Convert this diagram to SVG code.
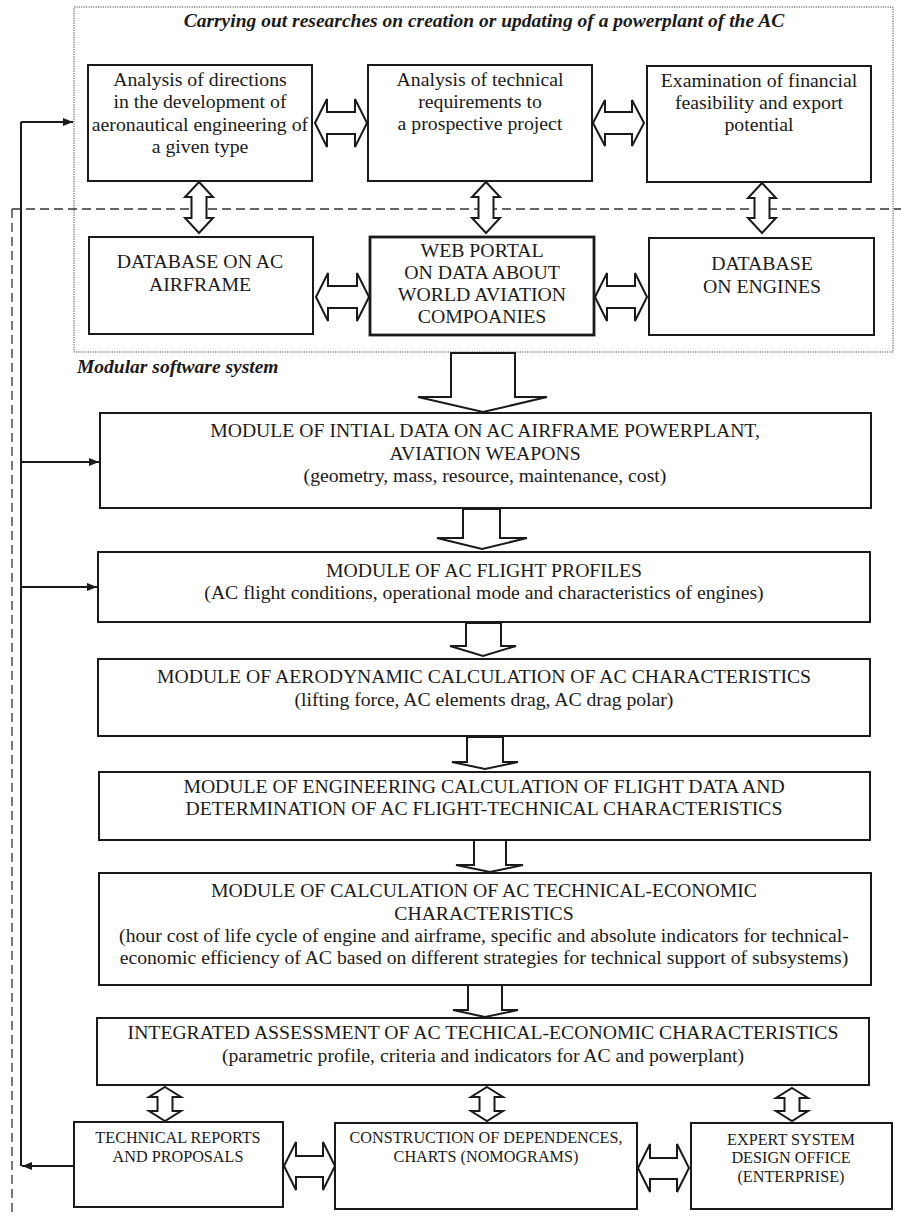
<svg xmlns="http://www.w3.org/2000/svg" width="901" height="1218" viewBox="0 0 901 1218">
<style>
.bg{fill:#ffffff}
.box{fill:#ffffff;stroke:#1a1a1a;stroke-width:2}
.boxb{fill:#ffffff;stroke:#1a1a1a;stroke-width:2.8}
.blk{fill:#ffffff;stroke:#1a1a1a;stroke-width:2;stroke-linejoin:miter}
.dot{fill:none;stroke:#444;stroke-width:1;stroke-dasharray:1.2,1.2}
.dash{fill:none;stroke:#333;stroke-width:1.3;stroke-dasharray:9,5}
.line{fill:none;stroke:#1a1a1a;stroke-width:2}
text{font-family:"Liberation Serif","Times New Roman",serif;fill:#1a1a1a;text-anchor:middle}
.t18{font-size:19.8px}
.t17{font-size:19.7px}
.t14{font-size:16.2px}
.ttl{font-size:19.5px;font-weight:bold;font-style:italic}
.lbl{font-size:19.5px;font-weight:bold;font-style:italic;text-anchor:start}
</style>
<defs>
<marker id="ah" viewBox="0 0 10 8" refX="10" refY="4" markerWidth="10" markerHeight="8" markerUnits="userSpaceOnUse" orient="auto">
<path d="M0,0 L10,4 L0,8 Z" fill="#1a1a1a"/>
</marker>
</defs>
<rect class="bg" x="0" y="0" width="901" height="1218"/>

<g id="frames">
<rect class="dot" x="74" y="7" width="819" height="345"/>
<path class="dash" d="M12,209 H901 M12,209 V1216"/>
<text class="ttl" x="484" y="27">Carrying out researches on creation or updating of a powerplant of the AC</text>
<text class="lbl" x="77" y="373">Modular software system</text>
</g>

<g id="connectors">
<path class="line" d="M21,122 V1166"/>
<path class="line" d="M21,122 H73" marker-end="url(#ah)"/>
<path class="line" d="M21,462 H99" marker-end="url(#ah)"/>
<path class="line" d="M21,587 H97" marker-end="url(#ah)"/>
<path class="line" d="M74,1166 H22" marker-end="url(#ah)"/>
<polygon class="blk" points="315,123 327,99 327,112 355,112 355,99 367,123 355,147 355,134 327,134 327,147"/>
<polygon class="blk" points="593,123 605,100 605,112 632,112 632,100 644,123 632,146 632,134 605,134 605,146"/>
<polygon class="blk" points="316,297 328,273 328,286 357,286 357,273 369,297 357,321 357,308 328,308 328,321"/>
<polygon class="blk" points="595,297 607,273 607,286 635,286 635,273 647,297 635,321 635,308 607,308 607,321"/>
<polygon class="blk" points="199,182 213,197 206.5,197 206.5,218 213,218 199,233 185,218 191.5,218 191.5,197 185,197"/>
<polygon class="blk" points="486,182 500,197 493.5,197 493.5,218 500,218 486,233 472,218 478.5,218 478.5,197 472,197"/>
<polygon class="blk" points="762,183 776,198 769.5,198 769.5,218 776,218 762,233 748,218 754.5,218 754.5,198 748,198"/>
<polygon class="blk" points="451,353 515,353 515,397 547,397 483,412 418,397 451,397"/>
<polygon class="blk" points="463,509 500,509 500,538 527,538 482,549 437,538 463,538"/>
<polygon class="blk" points="466,623 501,623 501,646 516,646 483,656 450,646 466,646"/>
<polygon class="blk" points="467,737 503,737 503,762 518,762 485,769 452,762 467,762"/>
<polygon class="blk" points="474,840 506,840 506,865 523,865 490,872 456,865 474,865"/>
<polygon class="blk" points="468,985 502,985 502,1010 518,1010 485,1017 453,1010 468,1010"/>
<polygon class="blk" points="165,1087 181,1097 172.5,1097 172.5,1111 181,1111 165,1121 149,1111 157.5,1111 157.5,1097 149,1097"/>
<polygon class="blk" points="487,1087 503,1097 494.5,1097 494.5,1111 503,1111 487,1121 471,1111 479.5,1111 479.5,1097 471,1097"/>
<polygon class="blk" points="792,1088 808,1098 799.5,1098 799.5,1111 808,1111 792,1121 776,1111 784.5,1111 784.5,1098 776,1098"/>
<polygon class="blk" points="284,1166 296,1142 296,1156 323,1156 323,1142 335,1166 323,1190 323,1177 296,1177 296,1190"/>
<polygon class="blk" points="638,1168 650,1144 650,1158 677,1158 677,1144 689,1168 677,1192 677,1179 650,1179 650,1192"/>
</g>

<g id="n-directions">
<rect class="box" x="88" y="65" width="224" height="116"/>
<text class="t18" x="200" y="86">Analysis of directions</text>
<text class="t18" x="200" y="108">in the development of</text>
<text class="t18" x="200" y="131">aeronautical engineering of</text>
<text class="t18" x="200" y="153">a given type</text>
</g>
<g id="n-requirements">
<rect class="box" x="368" y="65" width="224" height="116"/>
<text class="t18" x="480" y="86">Analysis of technical</text>
<text class="t18" x="480" y="108">requirements to</text>
<text class="t18" x="480" y="130">a prospective project</text>
</g>
<g id="n-financial">
<rect class="box" x="647" y="66" width="224" height="116"/>
<text class="t18" x="759" y="87">Examination of financial</text>
<text class="t18" x="759" y="109">feasibility and export</text>
<text class="t18" x="759" y="131">potential</text>
</g>
<g id="n-db-airframe">
<rect class="box" x="89" y="237" width="224" height="97"/>
<text class="t18" x="200" y="268">DATABASE ON AC</text>
<text class="t18" x="200" y="291">AIRFRAME</text>
</g>
<g id="n-web-portal">
<rect class="boxb" x="370" y="237" width="224" height="98"/>
<text class="t18" x="482" y="257">WEB PORTAL</text>
<text class="t18" x="482" y="279">ON DATA ABOUT</text>
<text class="t18" x="482" y="301">WORLD AVIATION</text>
<text class="t18" x="482" y="323">COMPOANIES</text>
</g>
<g id="n-db-engines">
<rect class="box" x="649" y="238" width="225" height="97"/>
<text class="t18" x="762" y="270">DATABASE</text>
<text class="t18" x="762" y="293">ON ENGINES</text>
</g>

<g id="n-module-initial">
<rect class="box" x="100" y="413" width="771" height="95"/>
<text class="t17" x="485" y="437">MODULE OF INTIAL DATA ON AC AIRFRAME POWERPLANT,</text>
<text class="t17" x="485" y="460">AVIATION WEAPONS</text>
<text class="t17" x="485" y="482">(geometry, mass, resource, maintenance, cost)</text>
</g>
<g id="n-module-profiles">
<rect class="box" x="98" y="552" width="772" height="70"/>
<text class="t17" x="484" y="577">MODULE OF AC FLIGHT PROFILES</text>
<text class="t17" x="484" y="599">(AC flight conditions, operational mode and characteristics of engines)</text>
</g>
<g id="n-module-aero">
<rect class="box" x="98" y="659" width="772" height="77"/>
<text class="t17" x="484" y="683">MODULE OF AERODYNAMIC CALCULATION OF AC CHARACTERISTICS</text>
<text class="t17" x="484" y="706">(lifting force, AC elements drag, AC drag polar)</text>
</g>
<g id="n-module-engineering">
<rect class="box" x="99" y="772" width="771" height="68"/>
<text class="t17" x="484" y="793">MODULE OF ENGINEERING CALCULATION OF FLIGHT DATA AND</text>
<text class="t17" x="484" y="815">DETERMINATION OF AC FLIGHT-TECHNICAL CHARACTERISTICS</text>
</g>
<g id="n-module-economic">
<rect class="box" x="99" y="873" width="772" height="112"/>
<text class="t17" x="484" y="897">MODULE OF CALCULATION OF AC TECHNICAL-ECONOMIC</text>
<text class="t17" x="484" y="920">CHARACTERISTICS</text>
<text class="t17" x="484" y="942">(hour cost of life cycle of engine and airframe, specific and absolute indicators for technical-</text>
<text class="t17" x="484" y="964">economic efficiency of AC based on different strategies for technical support of subsystems)</text>
</g>
<g id="n-integrated">
<rect class="box" x="97" y="1018" width="772" height="67"/>
<text class="t17" x="483" y="1039">INTEGRATED ASSESSMENT OF AC TECHICAL-ECONOMIC CHARACTERISTICS</text>
<text class="t17" x="483" y="1062">(parametric profile, criteria and indicators for AC and powerplant)</text>
</g>

<g id="n-reports">
<rect class="box" x="74" y="1122" width="209" height="85"/>
<text class="t14" x="178" y="1143">TECHNICAL REPORTS</text>
<text class="t14" x="178" y="1162">AND PROPOSALS</text>
</g>
<g id="n-charts">
<rect class="box" x="335" y="1123" width="302" height="86"/>
<text class="t14" x="486" y="1143">CONSTRUCTION OF DEPENDENCES,</text>
<text class="t14" x="486" y="1162">CHARTS (NOMOGRAMS)</text>
</g>
<g id="n-expert">
<rect class="box" x="691" y="1123" width="201" height="86"/>
<text class="t14" x="791" y="1145">EXPERT SYSTEM</text>
<text class="t14" x="791" y="1163">DESIGN OFFICE</text>
<text class="t14" x="791" y="1182">(ENTERPRISE)</text>
</g>
</svg>
